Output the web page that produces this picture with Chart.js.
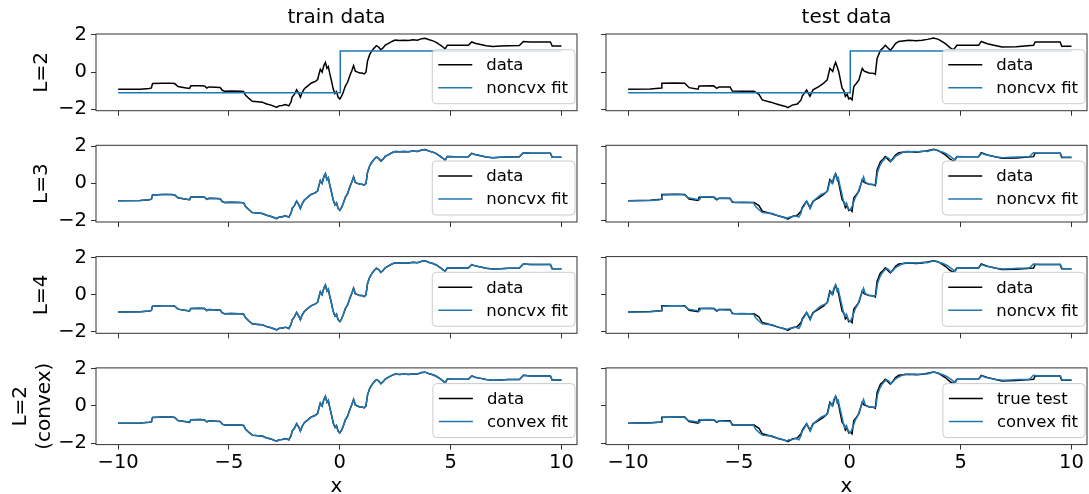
<!DOCTYPE html>
<html>
<head>
<meta charset="utf-8">
<script src="https://cdn.jsdelivr.net/npm/chart.js@4.4.1/dist/chart.umd.min.js"></script>
<style>
  body { margin: 0; background: #fff; overflow: hidden; }
  #fig { position: relative; width: 1089px; height: 494px; }
  #fig canvas { position: absolute; left: 0; top: 0; }
</style>
</head>
<body>
<div id="fig"></div>
<script>
// train series
const trainX = [-10, -9.0, -8.6, -8.5, -8.45, -8.0, -7.6, -7.45, -7.3, -7.0,
  -6.78, -6.72, -6.3, -6.1, -6.0, -5.9, -5.6, -5.4, -5.3, -5.2,
  -4.9, -4.5, -4.34, -4.25, -4.1, -3.95, -3.7, -3.5, -3.3, -3.1,
  -2.95, -2.85, -2.75, -2.6, -2.45, -2.3, -2.2, -2.15, -2.05, -1.95,
  -1.85, -1.78, -1.7, -1.6, -1.5, -1.4, -1.3, -1.2, -1.1, -1.0,
  -0.95, -0.88, -0.8, -0.72, -0.65, -0.58, -0.52, -0.45, -0.38, -0.3,
  -0.22, -0.15, -0.08, 0.0, 0.08, 0.15, 0.25, 0.35, 0.45, 0.55,
  0.62, 0.7, 0.8, 0.9, 1.0, 1.1, 1.18, 1.25, 1.35, 1.45,
  1.55, 1.65, 1.75, 1.85, 1.95, 2.05, 2.2, 2.35, 2.5, 2.7,
  2.9, 3.1, 3.3, 3.5, 3.7, 3.85, 4.0, 4.2, 4.35, 4.5,
  4.65, 4.75, 4.85, 5.2, 5.8, 5.95, 6.1, 6.3, 6.6, 6.9,
  7.25, 7.6, 8.1, 8.28, 8.6, 9.0, 9.5, 9.58, 10.0];
const trainY = [-0.93, -0.92, -0.88, -0.85, -0.62, -0.60, -0.60, -0.62, -0.78, -0.84,
  -0.88, -0.74, -0.73, -0.75, -0.86, -0.80, -0.82, -0.83, -0.98, -1.03,
  -1.02, -1.03, -1.05, -1.25, -1.42, -1.57, -1.60, -1.62, -1.72, -1.78,
  -1.85, -1.90, -1.82, -1.80, -1.75, -1.82, -1.60, -1.35, -1.20, -0.95,
  -1.15, -1.35, -1.10, -0.90, -0.80, -0.70, -0.60, -0.55, -0.50, -0.40,
  -0.15, 0.15, 0.00, 0.35, 0.52, 0.20, 0.30, -0.10, -0.45, -0.90,
  -1.15, -1.05, -1.35, -1.45, -1.30, -1.10, -0.75, -0.55, -0.20, 0.10,
  0.35, 0.05, 0.00, -0.05, -0.05, -0.10, 0.00, 0.60, 0.95, 1.15,
  1.30, 1.42, 1.35, 1.20, 1.30, 1.45, 1.55, 1.65, 1.72, 1.70,
  1.72, 1.70, 1.74, 1.72, 1.80, 1.82, 1.75, 1.68, 1.60, 1.48,
  1.35, 1.25, 1.45, 1.44, 1.44, 1.62, 1.55, 1.50, 1.42, 1.38,
  1.40, 1.42, 1.43, 1.65, 1.62, 1.62, 1.62, 1.40, 1.40];

// test series
const testX = [-10, -9.0, -8.5, -8.48, -7.9, -7.45, -7.25, -6.85, -6.8, -6.15,
  -6.0, -5.9, -5.4, -5.3, -4.8, -4.32, -4.1, -3.95, -3.57, -3.2,
  -2.9, -2.8, -2.6, -2.37, -2.2, -2.15, -1.95, -1.8, -1.66, -1.4,
  -1.18, -1.02, -0.9, -0.77, -0.7, -0.64, -0.56, -0.5, -0.35, -0.27,
  -0.2, -0.12, -0.05, 0.02, 0.1, 0.18, 0.3, 0.41, 0.56, 0.65,
  0.72, 0.87, 1.08, 1.15, 1.23, 1.38, 1.5, 1.6, 1.83, 1.95,
  2.06, 2.21, 2.66, 3.0, 3.26, 3.5, 3.78, 4.0, 4.31, 4.53,
  4.68, 4.83, 5.81, 5.93, 6.2, 6.86, 7.5, 8.29, 8.36, 9.49,
  9.56, 10.0];
const testY = [-0.93, -0.91, -0.86, -0.60, -0.59, -0.60, -0.84, -0.92, -0.75, -0.74,
  -0.88, -0.80, -0.80, -1.02, -1.03, -1.03, -1.20, -1.50, -1.62, -1.76,
  -1.85, -1.92, -1.78, -1.72, -1.50, -1.31, -0.96, -1.31, -0.96, -0.78,
  -0.60, -0.42, 0.20, 0.03, 0.35, 0.52, 0.25, 0.02, -0.87, -1.00,
  -1.31, -1.20, -1.45, -1.40, -1.50, -0.78, -0.60, -0.42, 0.20, 0.05,
  0.02, -0.05, -0.07, -0.12, 0.73, 1.17, 1.30, 1.44, 1.17, 1.35,
  1.53, 1.65, 1.71, 1.68, 1.71, 1.76, 1.83, 1.76, 1.53, 1.30,
  1.20, 1.44, 1.44, 1.65, 1.53, 1.35, 1.37, 1.44, 1.62, 1.62,
  1.39, 1.39];

// L=2 nonconvex fit: a single step
const stepX = [-10, 0.02, 0.02, 10];
const stepY = [-1.12, -1.12, 1.14, 1.14];
// the deeper / convex fits sit right on the train data
const deepFitX = trainX;
const deepFitY = trainY;

const xTicks = [-10, -5, 0, 5, 10];
const yTicks = [-2, 0, 2];
const rowLabels = [['L=2'], ['L=3'], ['L=4'], ['L=2', '(convex)']];
const colTitles = ['train data', 'test data'];
const dataNames = [['data', 'data', 'data', 'data'], ['data', 'data', 'data', 'true test']];
const fitNames = ['noncvx fit', 'noncvx fit', 'noncvx fit', 'convex fit'];

const W = 1089, H = 494;
const FONT = 'DejaVu Sans';
const colLeft = [96, 606], colRight = [577, 1087];
const rowTop0 = 34, rowStep = 111.3, rowH = 76.7;

function fmt(v) {
  return v < 0 ? '\u2212' + Math.abs(v) : String(v);
}
function pts(xs, ys) {
  return xs.map((x, i) => ({x: x, y: ys[i]}));
}

const framePlugin = {
  id: 'frame',
  afterDatasetsDraw(chart) {
    const {ctx, chartArea: a} = chart;
    ctx.save();
    ctx.strokeStyle = '#333';
    ctx.lineWidth = 1;
    ctx.strokeRect(a.left, a.top, a.right - a.left, a.bottom - a.top);
    ctx.restore();
  }
};

// matplotlib style legend box inside the plot, lower right
const boxLegend = {
  id: 'boxLegend',
  afterDraw(chart) {
    const {ctx, chartArea: a} = chart;
    const sets = chart.data.datasets;
    ctx.save();
    ctx.font = '16.5px "' + FONT + '"';
    let tw = 0;
    sets.forEach(d => { tw = Math.max(tw, ctx.measureText(d.label).width); });
    const bw = 54 + tw + 7, bh = 54;
    const bx = a.right - 2 - bw, by = a.bottom - 7 - bh;
    ctx.beginPath();
    ctx.roundRect(bx, by, bw, bh, 4);
    ctx.fillStyle = 'rgba(255,255,255,0.8)';
    ctx.fill();
    ctx.strokeStyle = '#cccccc';
    ctx.lineWidth = 1;
    ctx.stroke();
    sets.forEach((d, i) => {
      const ly = by + 15 + i * 23;
      ctx.beginPath();
      ctx.moveTo(bx + 6, ly);
      ctx.lineTo(bx + 40, ly);
      ctx.strokeStyle = d.borderColor;
      ctx.lineWidth = 1.5;
      ctx.stroke();
      ctx.fillStyle = '#000';
      ctx.textBaseline = 'middle';
      ctx.fillText(d.label, bx + 54, ly + 1);
    });
    ctx.restore();
  }
};

const fig = document.getElementById('fig');

function makePanel(row, col) {
  const canvas = document.createElement('canvas');
  canvas.width = W;
  canvas.height = H;
  fig.appendChild(canvas);

  const left = colLeft[col], right = colRight[col];
  const top = rowTop0 + row * rowStep, bottom = top + rowH;
  const yw = col === 0 ? 96 : 30;
  const xh = 49;
  const titleH = row === 0 ? 28 : 0;
  const bottomRow = row === 3;

  const dx = col === 0 ? trainX : testX;
  const dy = col === 0 ? trainY : testY;
  const fx = row === 0 ? stepX : deepFitX;
  const fy = row === 0 ? stepY : deepFitY;

  new Chart(canvas, {
    type: 'line',
    data: {
      datasets: [
        { label: dataNames[col][row], data: pts(dx, dy), borderColor: '#000000',
          borderWidth: 1.5, pointRadius: 0, tension: 0, order: 1 },
        { label: fitNames[row], data: pts(fx, fy), borderColor: '#1f77b4',
          borderWidth: 1.5, pointRadius: 0, tension: 0, order: 0 }
      ]
    },
    options: {
      responsive: false,
      animation: false,
      events: [],
      devicePixelRatio: 1,
      layout: {
        padding: { left: left - yw, right: W - right, top: top - titleH, bottom: H - bottom - xh }
      },
      plugins: {
        legend: { display: false },
        tooltip: { enabled: false },
        title: {
          display: row === 0,
          text: colTitles[col],
          fullSize: false,
          color: '#000',
          font: { family: FONT, size: 20, weight: 'normal', lineHeight: 1.2 },
          padding: { top: 0, bottom: 4 }
        }
      },
      scales: {
        x: {
          type: 'linear',
          min: -11,
          max: 10.7,
          afterBuildTicks: s => { s.ticks = xTicks.map(v => ({ value: v })); },
          afterFit: s => { s.height = xh; },
          border: { display: false },
          grid: { drawOnChartArea: false, drawTicks: true, tickLength: 5, color: '#333' },
          ticks: {
            color: '#000',
            font: { family: FONT, size: 19.5 },
            padding: 2,
            maxRotation: 0,
            callback: v => bottomRow ? fmt(v) : ''
          },
          title: {
            display: bottomRow,
            text: 'x',
            color: '#000',
            font: { family: FONT, size: 20, lineHeight: 1 },
            padding: { top: 0, bottom: -3 }
          }
        },
        y: {
          type: 'linear',
          min: -2.08,
          max: 2.05,
          afterBuildTicks: s => { s.ticks = yTicks.map(v => ({ value: v })); },
          afterFit: s => { s.width = yw; },
          border: { display: false },
          grid: { drawOnChartArea: false, drawTicks: true, tickLength: 5, color: '#333' },
          ticks: {
            color: '#000',
            font: { family: FONT, size: 19.5 },
            padding: 4,
            callback: v => col === 0 ? fmt(v) : ''
          },
          title: {
            display: col === 0,
            text: rowLabels[row],
            color: '#000',
            font: { family: FONT, size: 20, lineHeight: 1.2 },
            padding: { top: bottomRow ? 9 : 30, bottom: 0 }
          }
        }
      }
    },
    plugins: [framePlugin, boxLegend]
  });
}

for (let r = 0; r < 4; r++) {
  for (let c = 0; c < 2; c++) {
    makePanel(r, c);
  }
}
</script>
</body>
</html>
